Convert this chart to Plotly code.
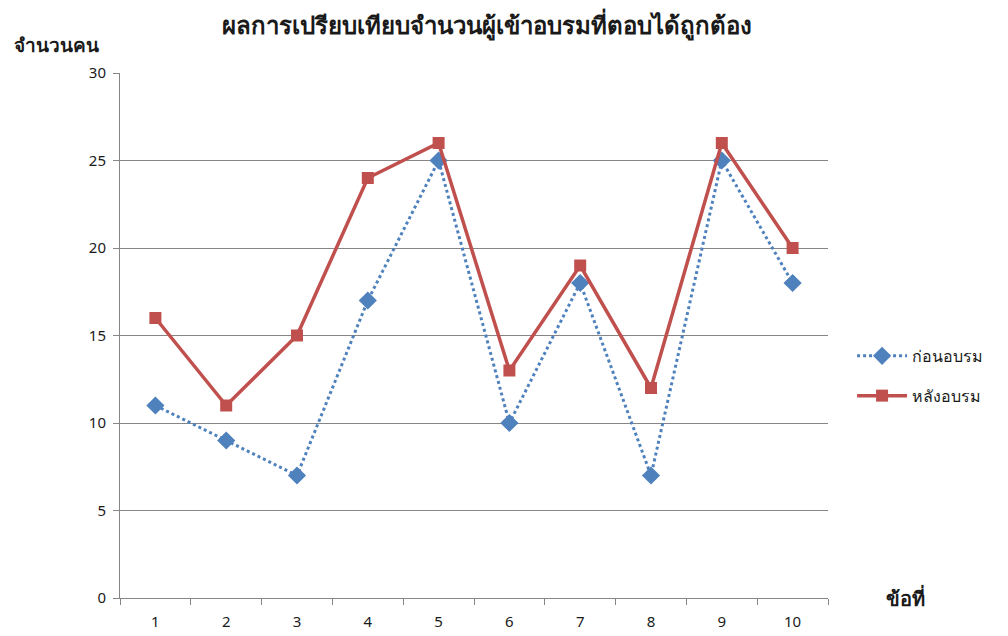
import plotly.graph_objects as go

categories = ["1", "2", "3", "4", "5", "6", "7", "8", "9", "10"]
before = [11, 9, 7, 17, 25, 10, 18, 7, 25, 18]
after = [16, 11, 15, 24, 26, 13, 19, 12, 26, 20]
y_ticks = [0, 5, 10, 15, 20, 25, 30]

FONT = "Noto Sans, DejaVu Sans, sans-serif"
TXT = "#1a1a1a"

fig = go.Figure()
fig.add_trace(go.Scatter(
    x=categories, y=before, name="ก่อนอบรม", mode="lines+markers",
    legendgroup="a",
    line=dict(color="#4F81BD", width=3, dash="dot"),
    marker=dict(symbol="diamond", size=14, color="#4F81BD"),
))
fig.add_trace(go.Scatter(
    x=categories, y=after, name="หลังอบรม", mode="lines+markers",
    legendgroup="b",
    line=dict(color="#C0504D", width=3.5),
    marker=dict(symbol="square", size=12, color="#C0504D"),
))

# page body has an 8px margin, so the figure sits at (8, 8) in the window
fig.update_layout(
    width=1000, height=628,
    paper_bgcolor="white", plot_bgcolor="white",
    margin=dict(l=112, r=180, t=65, b=38, autoexpand=False),
    font=dict(family=FONT, size=15, color=TXT),
    title=dict(text="<b>ผลการเปรียบเทียบจำนวนผู้เข้าอบรมที่ตอบได้ถูกต้อง</b>",
               x=0.479, xanchor="center", y=0.972, yanchor="middle",
               font=dict(size=24, family=FONT, color=TXT)),
    showlegend=True,
    legend=dict(x=1.034, y=0.423, xanchor="left", yanchor="middle",
                font=dict(size=16), tracegroupgap=16, bgcolor="rgba(0,0,0,0)",
                itemwidth=50),
    xaxis=dict(type="category", tickson="boundaries", ticks="outside",
               range=[-0.5, len(categories) - 0.5],
               ticklen=6, tickcolor="#868686", showline=True, linecolor="#868686",
               linewidth=1, showgrid=False, zeroline=False, automargin=False,
               tickfont=dict(size=15), ticklabelstandoff=10),
    yaxis=dict(range=[0, 30], tickvals=y_ticks, ticks="outside", ticklen=6,
               tickcolor="#868686", showline=True, linecolor="#868686",
               showgrid=True, gridcolor="#868686", gridwidth=1, zeroline=False,
               automargin=False, tickfont=dict(size=15), ticklabelstandoff=4),
)

fig.add_annotation(text="<b>จำนวนคน</b>", xref="paper", yref="paper", x=-0.152, y=1.025,
                   xanchor="left", yanchor="bottom", showarrow=False,
                   font=dict(size=19, family=FONT, color=TXT))
fig.add_annotation(text="<b>ข้อที่</b>", xref="paper", yref="paper", x=1.11, y=0.0,
                   xanchor="center", yanchor="middle", showarrow=False,
                   font=dict(size=20, family=FONT, color=TXT))

fig.write_html("out.html")
